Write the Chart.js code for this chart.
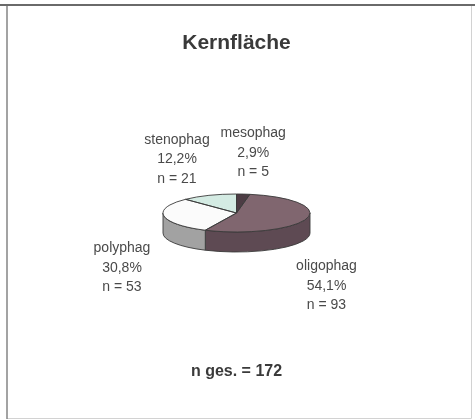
<!DOCTYPE html>
<html>
<head>
<meta charset="utf-8">
<script src="https://cdn.jsdelivr.net/npm/chart.js@4.4.1/dist/chart.umd.min.js"></script>
<style>
  html, body { margin: 0; padding: 0; background: #fff; }
</style>
</head>
<body>
<canvas id="kernChart" width="475" height="420"></canvas>
<script>
const categories = ['mesophag', 'oligophag', 'polyphag', 'stenophag'];
const counts = [5, 93, 53, 21];
const chartTitle = 'Kernfläche';
const totalLabel = 'n ges. = 172';

const topColors = ['#4d3c44', '#80666f', '#fbfbfb', '#d4ebe3'];
const sideColors = ['#3a2d33', '#5e4a53', '#a2a2a2', '#a9bfb7'];
// label offsets from the slice edge (px)
const labelNudge = [[10, -41], [20, 67], [-42, 52], [-32, -36]];

const TILT = 19 / 73.5;
const DEPTH = 20;
const FONT = '"Liberation Sans", Arial, sans-serif';

const total = counts.reduce((a, b) => a + b, 0);
const pctText = v => (v * 100 / total).toFixed(1).replace('.', ',') + '%';

const pie3d = {
  id: 'pie3d',
  beforeDraw(chart) {
    const ctx = chart.ctx;
    ctx.save();
    ctx.fillStyle = '#fff';
    ctx.fillRect(0, 0, chart.width, chart.height);
    ctx.strokeStyle = '#d2d2d2';
    ctx.lineWidth = 1;
    ctx.beginPath();
    ctx.moveTo(471.5, 6); ctx.lineTo(471.5, 418.5); ctx.lineTo(7, 418.5);
    ctx.stroke();
    ctx.strokeStyle = '#858585';
    ctx.lineWidth = 1.5;
    ctx.beginPath();
    ctx.moveTo(7, 6); ctx.lineTo(7, 419);
    ctx.stroke();
    ctx.strokeStyle = '#6a6a6a';
    ctx.lineWidth = 2;
    ctx.beginPath();
    ctx.moveTo(0, 5); ctx.lineTo(475, 5);
    ctx.stroke();
    ctx.restore();
  },
  beforeDatasetsDraw(chart) {
    const ctx = chart.ctx;
    const arcs = chart.getDatasetMeta(0).data;
    const cx = arcs[0].x, cy = arcs[0].y, r = arcs[0].outerRadius;
    const ry = r * TILT;
    const twoPi = Math.PI * 2;
    ctx.save();
    ctx.lineJoin = 'round';
    arcs.forEach((arc, i) => {
      let s = arc.startAngle, e = arc.endAngle;
      const off = Math.floor(s / twoPi) * twoPi;
      s -= off; e -= off;
      [[0, Math.PI], [twoPi, twoPi + Math.PI]].forEach(([a, b]) => {
        const s1 = Math.max(s, a), e1 = Math.min(e, b);
        if (e1 <= s1) return;
        ctx.beginPath();
        ctx.ellipse(cx, cy, r, ry, 0, s1, e1, false);
        ctx.ellipse(cx, cy + DEPTH, r, ry, 0, e1, s1, true);
        ctx.closePath();
        ctx.fillStyle = sideColors[i];
        ctx.fill();
        ctx.strokeStyle = '#3a3a3a';
        ctx.lineWidth = 0.9;
        ctx.stroke();
      });
    });
    ctx.restore();
    // squash the pie face into an ellipse
    ctx.save();
    ctx.translate(cx, cy);
    ctx.scale(1, TILT);
    ctx.translate(-cx, -cy);
  },
  afterDatasetsDraw(chart) {
    const ctx = chart.ctx;
    ctx.restore();
    const arcs = chart.getDatasetMeta(0).data;
    const cx = arcs[0].x, cy = arcs[0].y, r = arcs[0].outerRadius;
    const ry = r * TILT;
    ctx.save();
    ctx.strokeStyle = '#3a3a3a';
    ctx.lineWidth = 0.9;
    ctx.lineJoin = 'round';
    arcs.forEach(arc => {
      ctx.beginPath();
      ctx.moveTo(cx, cy);
      ctx.ellipse(cx, cy, r, ry, 0, arc.startAngle, arc.endAngle, false);
      ctx.closePath();
      ctx.stroke();
    });

    ctx.fillStyle = '#4a4a4a';
    ctx.font = '14px ' + FONT;
    ctx.textAlign = 'center';
    ctx.textBaseline = 'middle';
    arcs.forEach((arc, i) => {
      const mid = (arc.startAngle + arc.endAngle) / 2;
      const lx = cx + r * Math.cos(mid) + labelNudge[i][0];
      const ly = cy + ry * Math.sin(mid) + labelNudge[i][1];
      const lines = [categories[i], pctText(counts[i]), 'n = ' + counts[i]];
      lines.forEach((t, k) => ctx.fillText(t, lx, ly + (k - 1) * 19.5));
    });
    ctx.restore();
  }
};

const ctx = document.getElementById('kernChart').getContext('2d');
const kernChart = new Chart(ctx, {
  type: 'pie',
  data: {
    labels: categories,
    datasets: [{
      data: counts,
      backgroundColor: topColors,
      borderWidth: 0,
      radius: 73.5,
      clip: false
    }]
  },
  options: {
    responsive: false,
    animation: false,
    devicePixelRatio: 1,
    events: [],
    layout: { padding: { left: 0, right: 2, top: 0, bottom: 0 } },
    plugins: {
      legend: { display: false },
      tooltip: { enabled: false },
      title: {
        display: true,
        text: chartTitle,
        color: '#3a3a3a',
        font: { family: FONT, size: 21, weight: 'bold' },
        padding: { top: 30.4, bottom: 8 }
      },
      subtitle: {
        display: true,
        position: 'bottom',
        text: totalLabel,
        color: '#3a3a3a',
        font: { family: FONT, size: 16, weight: 'bold' },
        padding: { top: 0, bottom: 38.4 }
      }
    }
  },
  plugins: [pie3d]
});
</script>
</body>
</html>
